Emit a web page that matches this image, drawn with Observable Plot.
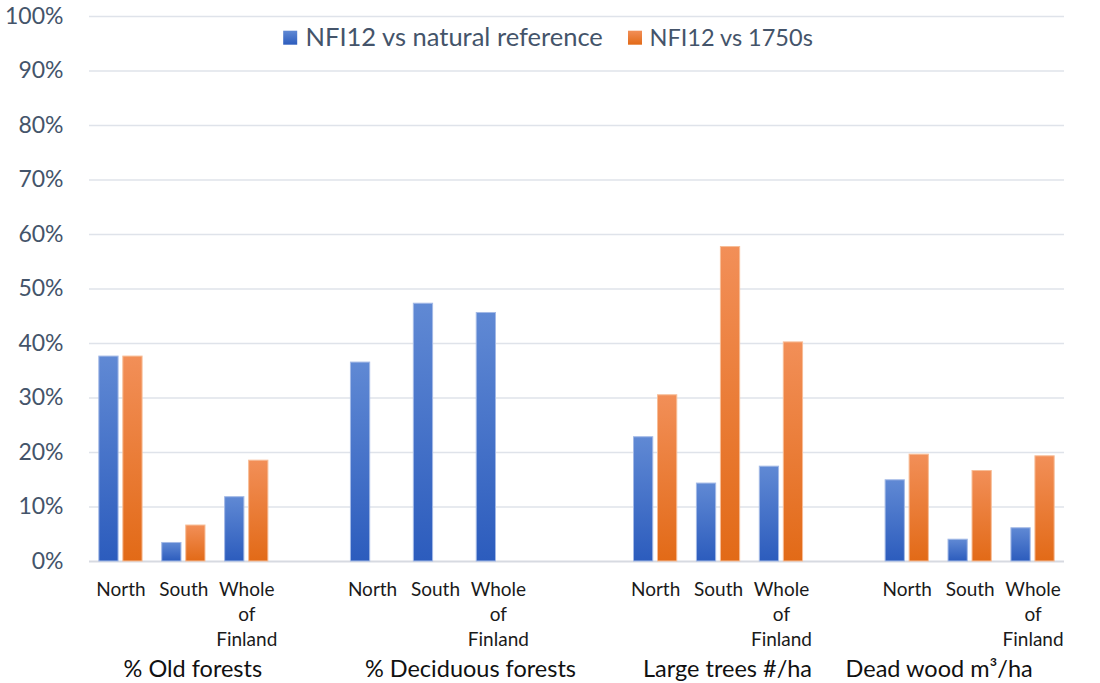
<!DOCTYPE html>
<html>
<head>
<meta charset="utf-8">
<script src="https://cdn.jsdelivr.net/npm/d3@7"></script>
<script src="https://cdn.jsdelivr.net/npm/@observablehq/plot@0.6"></script>
<style>
  html, body { margin: 0; padding: 0; background: #fff; }
  #chart svg { display: block; }
  #chart svg [aria-label="y-axis tick label"] { fill: #44546A; }
</style>
</head>
<body>
<div id="chart"></div>
<script>
// ---------- data ----------
const groups = ["% Old forests", "% Deciduous forests", "Large trees #/ha", "Dead wood m³/ha"];
const regions = ["North", "South", "Whole of Finland"];
const seriesNames = ["NFI12 vs natural reference", "NFI12 vs 1750s"];
// values in %, ordered group by group, region by region
const naturalRef = [37.6, 3.4, 11.8,  36.5, 47.3, 45.6,  22.8, 14.3, 17.4,  14.9, 4.0, 6.1];
const vs1750s    = [37.6, 6.6, 18.5,  null, null, null,  30.5, 57.7, 40.2,  19.6, 16.6, 19.3];
const yTicks = [0, 10, 20, 30, 40, 50, 60, 70, 80, 90, 100];

// ---------- layout (not data) ----------
const groupGap = [3, 4, 3];              // spacer half-slots between groups
const groupLabelDx = [9, 35, 9, -31];    // label nudges, px
const FONT = "Lato, 'Open Sans', sans-serif";

const keyOf = (gi, ri) => `${gi}|${ri}`;
const domain = [];
groups.forEach((g, gi) => {
  regions.forEach((r, ri) => {
    domain.push(keyOf(gi, ri));
    if (ri < regions.length - 1) domain.push(`sp-${gi}-${ri}`);
  });
  if (gi < groups.length - 1) for (let k = 0; k < groupGap[gi]; k++) domain.push(`gap-${gi}-${k}`);
});

const rows = [];
groups.forEach((g, gi) => regions.forEach((r, ri) => {
  const i = gi * regions.length + ri;
  rows.push({key: keyOf(gi, ri), group: g, region: r, series: seriesNames[0], value: naturalRef[i]});
  rows.push({key: keyOf(gi, ri), group: g, region: r, series: seriesNames[1], value: vs1750s[i]});
}));
const valid = rows.filter(d => d.value != null);
const blueRows = valid.filter(d => d.series === seriesNames[0]);
const orangeRows = valid.filter(d => d.series === seriesNames[1]);
const regionRows = groups.flatMap((g, gi) => regions.map((r, ri) => ({key: keyOf(gi, ri), label: r.split(" ").join("\n")})));
const groupRows = groups.map((g, gi) => ({key: keyOf(gi, 1), label: g, dx: groupLabelDx[gi]}));

const svg = Plot.plot({
  width: 1100,
  height: 683,
  marginLeft: 89,
  marginRight: 36,
  marginTop: 16,
  marginBottom: 122,
  style: {fontFamily: FONT, background: "#fff"},
  x: {type: "band", domain, paddingInner: 0, paddingOuter: 0.5, round: false, axis: null},
  y: {domain: [0, 100], axis: null, label: null},
  marks: [
    Plot.gridY(yTicks.filter(d => d > 0), {stroke: "#dfe3ea", strokeOpacity: 1, strokeWidth: 1.3}),
    Plot.ruleY([0], {stroke: "#d7dae1", strokeWidth: 2.2}),
    Plot.axisY(yTicks, {tickSize: 0, tickPadding: 26, tickFormat: d => d + "%", fontSize: 23, fill: "#44546A", label: null}),
    Plot.barY(blueRows, {x: "key", y: "value", fill: "url(#gradBlue)", stroke: "#a3b9e6", strokeWidth: 1,
      insetLeft: 6.1, insetRight: 6.1, dx: -12}),
    Plot.barY(orangeRows, {x: "key", y: "value", fill: "url(#gradOrange)", stroke: "#f7bd97", strokeWidth: 1,
      insetLeft: 6.1, insetRight: 6.1, dx: 12}),
    // region labels
    Plot.text(regionRows, {x: "key", frameAnchor: "bottom", text: "label", lineAnchor: "top", dy: 16.5,
      lineHeight: 1.316, fontSize: 19, fill: "#1a1a1a"}),
    // group labels
    ...groupRows.map(g => Plot.text([g], {x: "key", frameAnchor: "bottom", text: "label", lineAnchor: "bottom",
      dy: 115.5, dx: g.dx, fontSize: 23.5, fill: "#111"})),
    // legend
    Plot.dot([seriesNames[0]], {frameAnchor: "top-left", dx: 200.7, dy: 21.2, symbol: "square", r: 7.9, fill: "url(#gradBlue)"}),
    Plot.text([seriesNames[0]], {frameAnchor: "top-left", dx: 216, dy: 29, text: d => d, textAnchor: "start",
      lineAnchor: "bottom", fontSize: 25.5, fill: "#44546A"}),
    Plot.dot([seriesNames[1]], {frameAnchor: "top-left", dx: 545.5, dy: 21.2, symbol: "square", r: 7.9, fill: "url(#gradOrange)"}),
    Plot.text([seriesNames[1]], {frameAnchor: "top-left", dx: 560, dy: 29, text: d => d, textAnchor: "start",
      lineAnchor: "bottom", fontSize: 23.5, fill: "#44546A"})
  ]
});

d3.select(svg).insert("defs", ":first-child").html(`
  <linearGradient id="gradBlue" x1="0" y1="0" x2="0" y2="1">
    <stop offset="0" stop-color="#6089d4"/>
    <stop offset="1" stop-color="#2c5cbd"/>
  </linearGradient>
  <linearGradient id="gradOrange" x1="0" y1="0" x2="0" y2="1">
    <stop offset="0" stop-color="#f28f58"/>
    <stop offset="1" stop-color="#e26a17"/>
  </linearGradient>
`);

document.getElementById("chart").appendChild(svg);
</script>
</body>
</html>
